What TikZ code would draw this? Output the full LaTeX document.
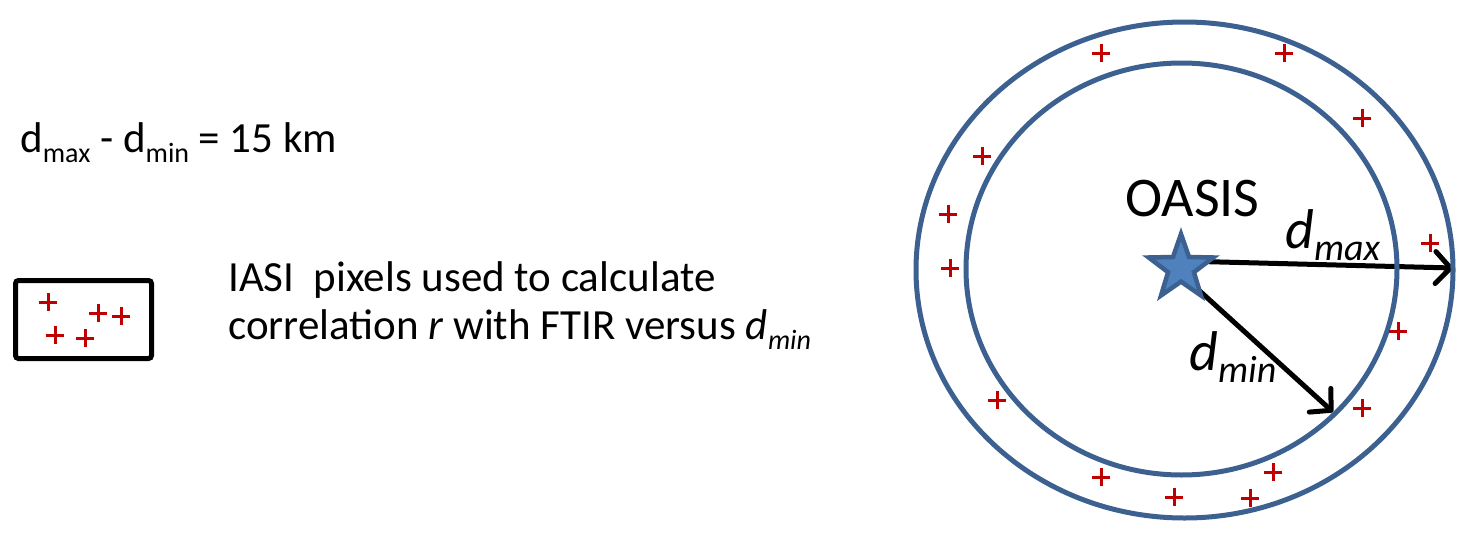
\documentclass[tikz,border=0pt]{standalone}
\usepackage{fontspec}
\setmainfont{Carlito}
\usetikzlibrary{shapes.geometric,arrows.meta,backgrounds}
\definecolor{ringblue}{HTML}{3C6190}
\definecolor{starfill}{HTML}{4F81BD}
\definecolor{plusred}{HTML}{C00000}
\tikzset{
  ring/.style={draw=ringblue, line width=5pt},
  pluss/.pic={\draw[plusred, line width=3pt] (-9,0) -- (9,0) (0,-9) -- (0,9);},
  radius arrow/.style={line width=5pt, line cap=round, -{Straight Barb[length=15pt, width=32pt, line cap=round, line join=round]}},
  maintext/.style={anchor=base west, inner sep=0pt, font=\fontsize{43}{50}\selectfont},
  labeltext/.style={anchor=base west, inner sep=0pt, font=\fontsize{56}{60}\selectfont}
}
\newcommand{\lowsub}[2]{\raisebox{#1}{\fontsize{28}{28}\selectfont #2}}
\newcommand{\biglowsub}[2]{\raisebox{#1}{\fontsize{38}{38}\selectfont #2}}
\begin{document}
\begin{tikzpicture}[x=1pt, y=-1pt]
\useasboundingbox (0,0) rectangle (1468,533);
% rings
\node[ring, ellipse, minimum width=537pt, minimum height=496pt, inner sep=0pt] (outer) at (1184.5,270) {};
\node[ring, ellipse, minimum width=431pt, minimum height=412pt, inner sep=0pt] (inner) at (1181.5,269) {};
% star
\node[star, star points=5, star point ratio=2.5, minimum size=68pt, inner sep=0pt, fill=starfill, draw=ringblue, line width=4.5pt] (oasis) at (1181,268) {};
\coordinate (tipmax) at (1453,268);
\coordinate (tipmin) at (1333,412);
\begin{pgfonlayer}{background}
\draw[radius arrow] ([yshift=7pt]oasis.center) -- (tipmax);
\draw[radius arrow] ([yshift=-6pt]oasis.center) -- (tipmin);
\end{pgfonlayer}
% labels
\node[labeltext] (oasislabel) at (1125,216) {OASIS};
\node[labeltext] (dmaxlabel) at (1285,248) {\itshape d\biglowsub{-12pt}{max}};
\node[labeltext] (dminlabel) at (1189,370) {\itshape d\biglowsub{-12pt}{min}};
% pixels in ring
\foreach \p in {(1101,53),(1284,53),(1362,118),(982,156),(948,214),(950,268),(1430,243),(1398,331),(1362,408),(997,400),(1101,477),(1273,472),(1174,497),(1250,498)}
  \pic at \p {pluss};
% legend
\node[maintext] (formula) at (20,152) {d\lowsub{-10pt}{max} - d\lowsub{-10pt}{min} = 15 km};
\node[draw=black, line width=5pt, rounded corners=3pt, minimum width=136pt, minimum height=78pt, inner sep=0pt] (legendbox) at (83.5,319.5) {};
\foreach \p in {(48,302),(98,313),(121,316),(55,335),(85,338)}
  \pic at \p {pluss};
\node[maintext] (legend1) at (228,291) {IASI\ \ pixels used to calculate};
\node[maintext] (legend2) at (228,339) {correlation \textit{r} with FTIR versus \textit{d}\lowsub{-10pt}{\itshape min}};
\end{tikzpicture}
\end{document}
